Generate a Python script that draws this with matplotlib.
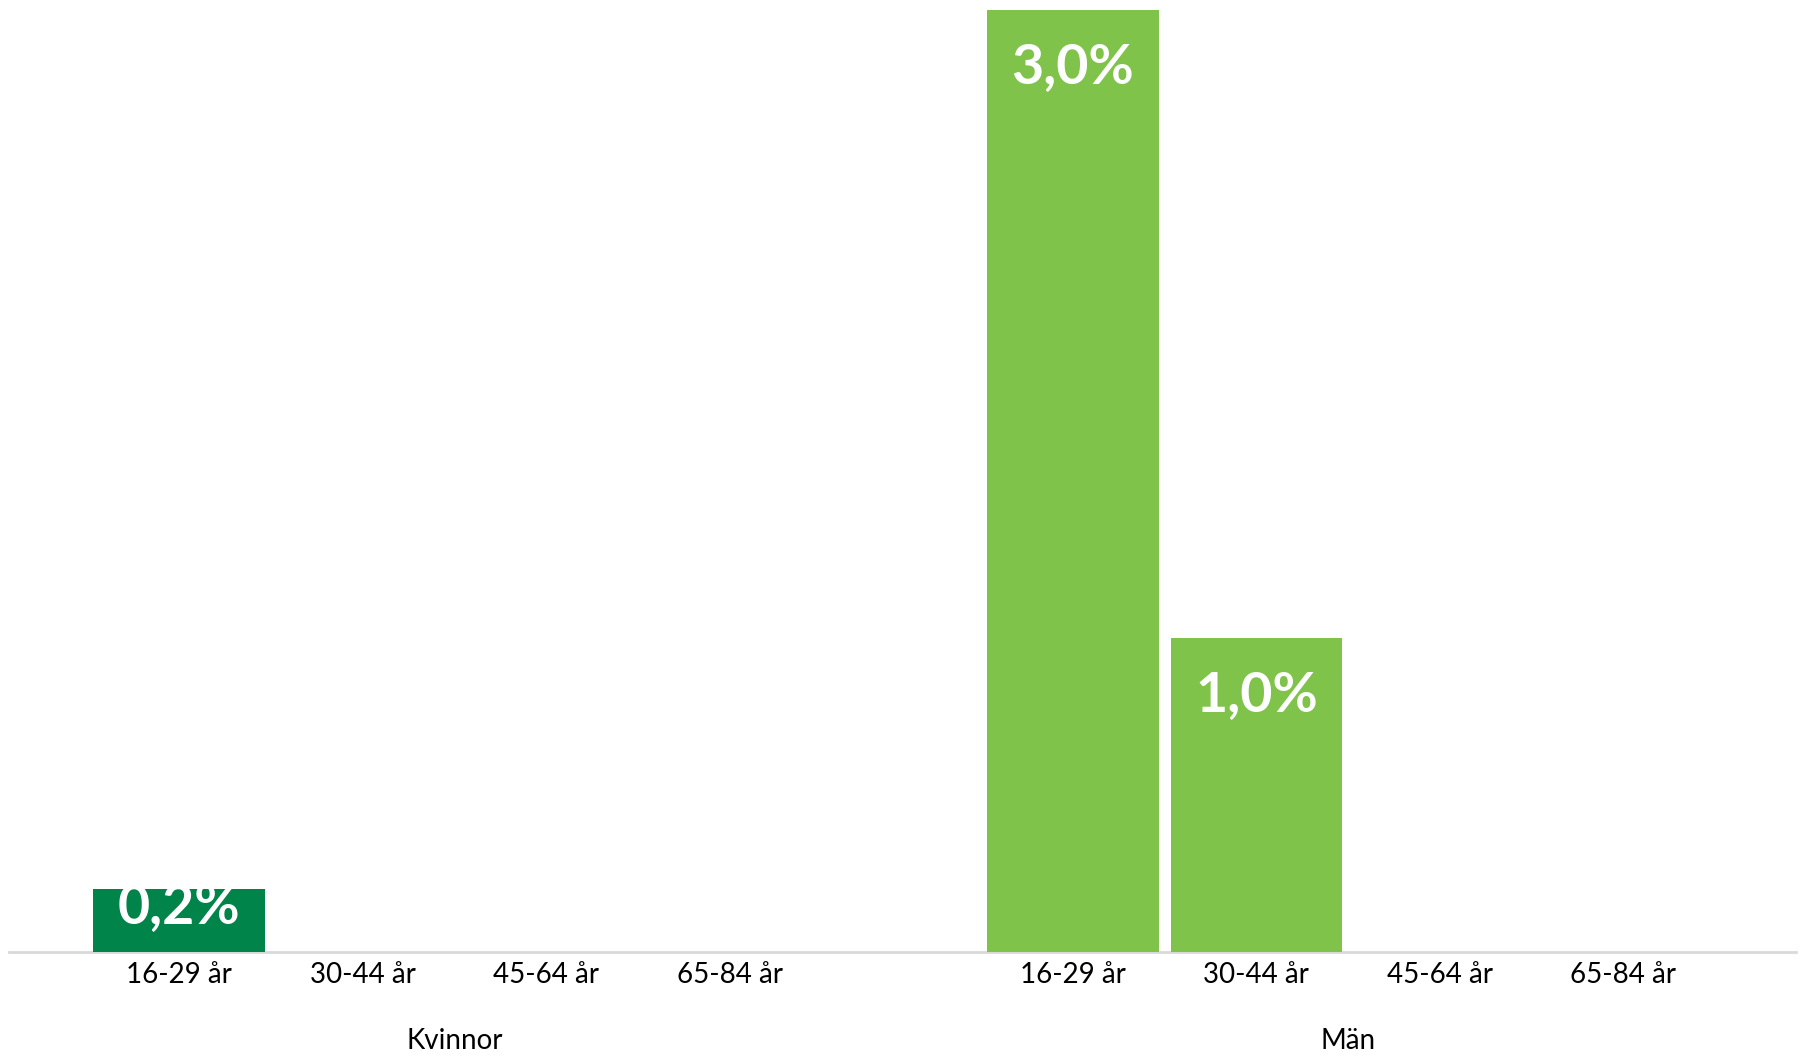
import matplotlib.pyplot as plt

plt.rcParams['font.family'] = ['Lato', 'DejaVu Sans']

# Data
age_groups = ['16-29 år', '30-44 år', '45-64 år', '65-84 år']
genders = ['Kvinnor', 'Män']
kvinnor_values = [0.2, 0.0, 0.0, 0.0]
man_values = [3.0, 1.0, 0.0, 0.0]

colors = {'Kvinnor': '#00844A', 'Män': '#80C34A'}

# mellanrum mellan grupperna (i stapelplatser)
group_gap = 0.87

fig = plt.figure(figsize=(18.05, 10.59), dpi=100)
ax = fig.add_axes([9 / 1805, 107 / 1059, (1796 - 9) / 1805, (952 - 10) / 1059])

positions = []
labels = []
for g, (gender, values) in enumerate(zip(genders, [kvinnor_values, man_values])):
    xs = [g * (len(age_groups) + group_gap) + i for i in range(len(age_groups))]
    ax.bar(xs, values, width=0.934, color=colors[gender], zorder=2)
    for x, v in zip(xs, values):
        if v <= 0:
            continue
        # etikett innanför stapelns topp
        offset = -41 if v > 0.5 else -13
        ax.annotate(f'{v:.1f}%'.replace('.', ','), xy=(x, v), xytext=(0, offset),
                    textcoords='offset points', ha='center', va='center',
                    color='white', fontsize=40, fontweight='bold', zorder=3,
                    annotation_clip=False)
    positions += xs
    labels += age_groups
    # gruppetikett under kategorierna
    ax.annotate(gender, xy=(sum(xs) / len(xs), 0), xycoords=('data', 'axes fraction'),
                xytext=(0, -64), textcoords='offset points', ha='center', va='center',
                fontsize=20, color='black', annotation_clip=False)

ax.set_xticks(positions)
ax.set_xticklabels(labels, fontsize=20)
ax.tick_params(axis='x', length=0, pad=7.5)
ax.set_xlim(-0.926, 8.81)
ax.set_ylim(0, 3.0)
ax.set_yticks([])

for side in ['top', 'right', 'left']:
    ax.spines[side].set_visible(False)
ax.spines['bottom'].set_color('#D9D9D9')
ax.spines['bottom'].set_linewidth(2)
ax.spines['bottom'].set_zorder(1)

fig.savefig('out.png', dpi=100, facecolor='white')
